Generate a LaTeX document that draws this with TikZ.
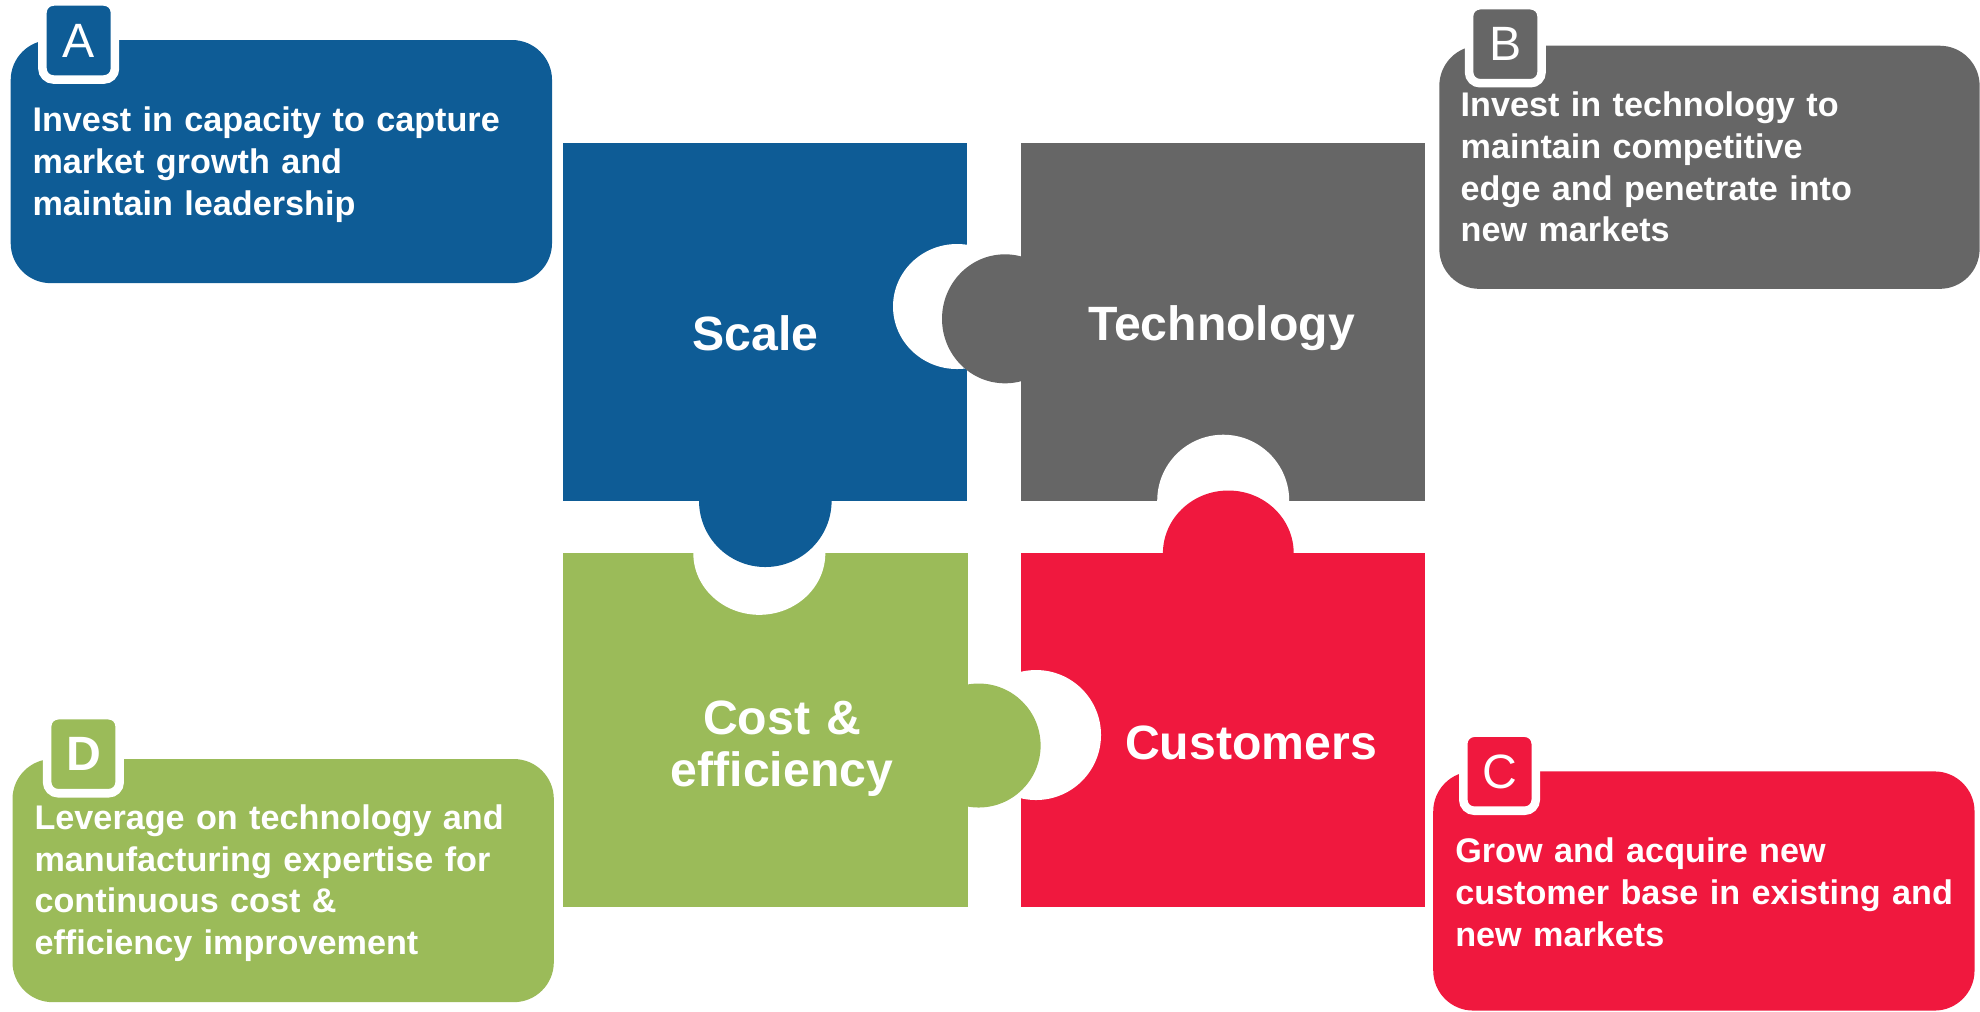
\documentclass[tikz,border=0pt]{standalone}
\usepackage{fontspec}
\setmainfont{Liberation Sans}
\usepackage{tikz}
\definecolor{scaleblue}{RGB}{14,92,150}
\definecolor{techgray}{RGB}{102,102,102}
\definecolor{costgreen}{RGB}{155,187,89}
\definecolor{custred}{RGB}{240,24,62}
\tikzset{%
  card/.style={rectangle, rounded corners=0.4cm, inner sep=0pt, anchor=north west,
    minimum width=5.41cm, minimum height=2.43cm},% coloured text card
  badge/.style={rectangle, rounded corners=0.11cm, draw=white, line width=0.085cm,
    minimum width=0.725cm, minimum height=0.78cm, inner sep=0pt, text=white,
    font=\fontsize{13.7}{14}\selectfont},% letter tab on a card
  cardtext/.style={anchor=base west, text width=5.2cm, align=left, inner sep=0pt,
    text=white, font=\bfseries\fontsize{9.72}{11.85}\selectfont},% card body
  piecelabel/.style={anchor=base, inner sep=0pt, text=white,
    font=\bfseries\fontsize{13.7}{14.8}\selectfont}% name on a puzzle piece
}

\begin{document}
\begin{tikzpicture}[x=0.01cm, y=-0.01cm]
\useasboundingbox (0,0) rectangle (1980,1011);

% cards
\node[card, fill=scaleblue] (cardA) at (10,39.3) {};
\node[card, fill=techgray, minimum width=5.40cm] (cardB) at (1438.6,45) {};
\node[card, fill=custred, minimum height=2.39cm] (cardC) at (1432.5,770.7) {};
\node[card, fill=costgreen] (cardD) at (11.8,758.3) {};

\node[badge, fill=scaleblue] (badgeA) at (78.7,40.5) {A};
\node[badge, fill=techgray] (badgeB) at (1505.3,44.2) {B};
\node[badge, fill=custred] (badgeC) at (1499.5,771.7) {C};
\node[badge, fill=costgreen, font=\fontsize{13.7}{14}\selectfont\bfseries] (badgeD) at (83.4,754.2) {D};

\node[cardtext] (textA) at (31.8,131.7) {Invest in capacity to capture\\market growth and\\maintain leadership};
\node[cardtext] (textB) at (1460,116.7) {Invest in technology to\\maintain competitive\\edge and penetrate into\\new markets};
\node[cardtext] (textC) at (1454.6,862.7) {Grow and acquire new\\customer base in existing and\\new markets};
\node[cardtext] (textD) at (33.9,829.3) {Leverage on technology and\\manufacturing expertise for\\continuous cost \&\\efficiency improvement};

% puzzle squares
\fill[scaleblue] (563,143) rectangle (966.5,500.7);
\fill[techgray] (1021,143) rectangle (1424.6,500.7);
\fill[costgreen] (563,553.3) rectangle (967.7,907);
\fill[custred] (1021,553.3) rectangle (1424.6,907);

% notches
\fill[white] (957,306.5) ellipse [x radius=64, y radius=62.5];
\fill[white] (759.3,553.3) ellipse [x radius=66, y radius=61.5];
\fill[white] (1223.2,500.7) circle [radius=66];
\fill[white] (1036,735) circle [radius=65];

% knobs
\fill[techgray] (1005,318.8) ellipse [x radius=63, y radius=64.5];
\fill[scaleblue] (765.3,500.7) circle [radius=66.3];
\fill[custred] (1228.3,553.3) ellipse [x radius=65.4, y radius=62.8];
\fill[costgreen] (978.6,745.5) circle [radius=62];

\node[piecelabel] (scale) at (755.3,350) {Scale};
\node[piecelabel] (tech) at (1221.6,340.7) {Technology};
\node[piecelabel, text width=3cm, align=center] (cost) at (782,734.7) {Cost \&\\efficiency};
\node[piecelabel] (cust) at (1251,759.7) {Customers};
\end{tikzpicture}
\end{document}
